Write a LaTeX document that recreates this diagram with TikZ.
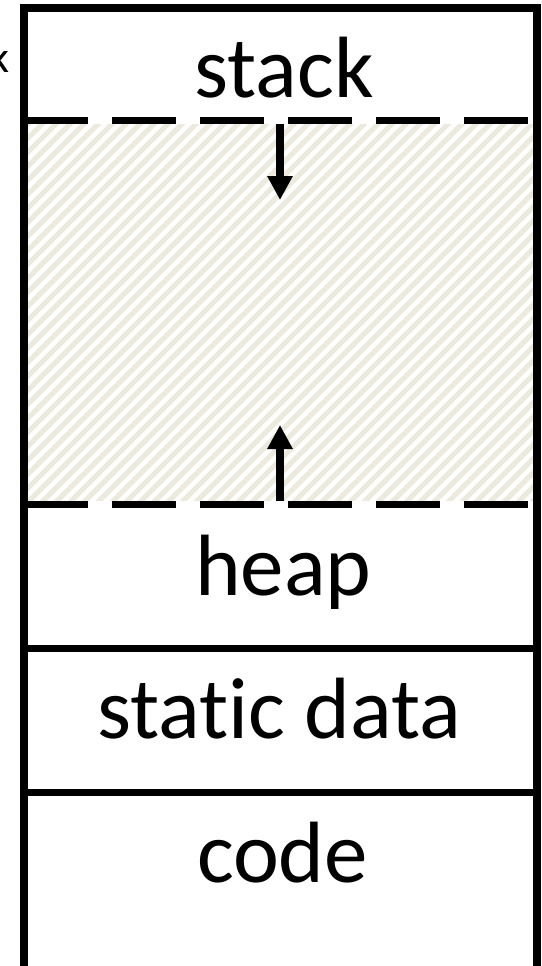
\documentclass[tikz,border=0pt]{standalone}
\usepackage{fontspec}
\setmainfont{Carlito}[Ligatures=NoCommon]
\usetikzlibrary{arrows.meta}
\definecolor{hatchcol}{HTML}{ECE9DD}
\tikzset{
  border/.style={line width=7.5pt, draw=black},
  divider/.style={line width=7.5pt, draw=black, line cap=butt},
  dashdiv/.style={line width=7.5pt, draw=black, line cap=butt, dash pattern=on 64pt off 24pt},
  growarrow/.style={line width=8pt, -{Triangle[width=24pt,length=24pt]}},
  hatchline/.style={line width=5pt, draw=hatchcol},
  seglabel/.style={font=\fontsize{87}{100}\selectfont, inner sep=0pt, anchor=base},
}
\begin{document}
\begin{tikzpicture}[x=1pt,y=-1pt]
\useasboundingbox (0,0) rectangle (541,966);
% hatched free area
\begin{scope}
  \clip (28,124) rectangle (533,500);
  \foreach \i in {-400,-386,...,560} {
    \draw[hatchline] (\i,510) -- ++(400,-400);
  }
\end{scope}
% outer frame
\draw[border] (24,8) rectangle (537,969.5);
% dividers
\draw[dashdiv] (24,120.5) -- (537,120.5);
\draw[dashdiv] (24,504.5) -- (537,504.5);
\draw[divider] (28,648.5) -- (533,648.5);
\draw[divider] (28,792.5) -- (533,792.5);
% labels
\node[seglabel] (stack) at (284,97) {stack};
\node[seglabel] (heap) at (283.5,595) {heap};
\node[seglabel] (static) at (279,738) {static data};
\node[seglabel] (code) at (282.5,882) {code};
\node[font=\fontsize{44}{50}\selectfont, inner sep=0pt, anchor=base east] (cut) at (9.5,73) {k};
% growth arrows
\coordinate (sdtop) at (280,124);
\coordinate (sdtip) at (280,200);
\coordinate (hptop) at (280,501);
\coordinate (hptip) at (280,425);
\draw[growarrow] (sdtop) -- (sdtip);
\draw[growarrow] (hptop) -- (hptip);
\end{tikzpicture}
\end{document}
